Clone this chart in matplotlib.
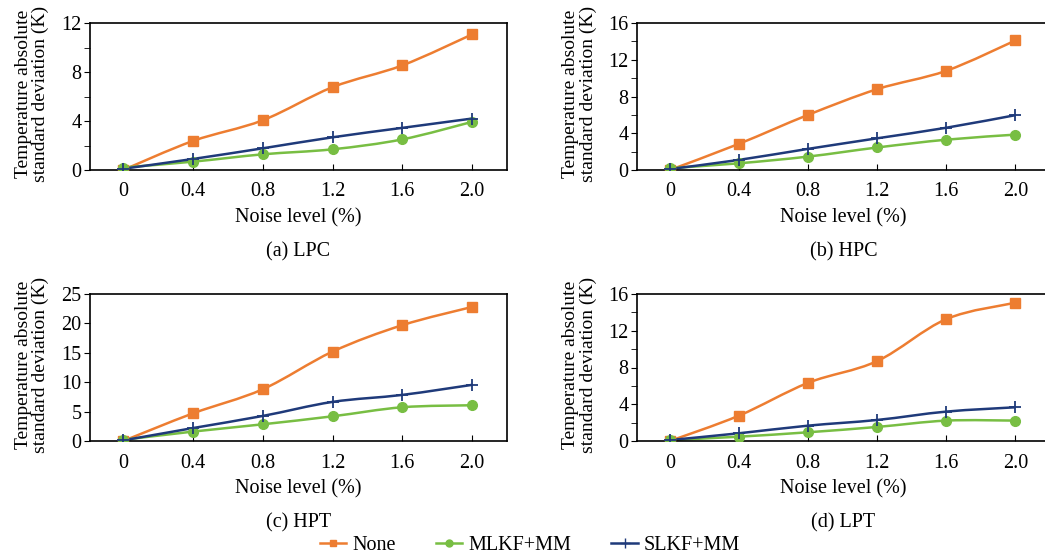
import matplotlib
matplotlib.use("Agg")
import matplotlib.pyplot as plt
import numpy as np
from matplotlib.path import Path
from matplotlib.patches import PathPatch
from matplotlib.lines import Line2D

plt.rcParams['font.family'] = ['Liberation Serif', 'DejaVu Serif']

noise = [0, 0.4, 0.8, 1.2, 1.6, 2.0]
xticklabels = ["0", "0.4", "0.8", "1.2", "1.6", "2.0"]

# (a) LPC
lpc_none = [0.0, 2.37, 4.06, 6.76, 8.54, 11.07]
lpc_mlkf = [0.2, 0.68, 1.28, 1.69, 2.5, 3.93]
lpc_slkf = [0.1, 0.9, 1.77, 2.67, 3.44, 4.2]
# (b) HPC
hpc_none = [0.0, 2.85, 6.0, 8.8, 10.8, 14.1]
hpc_mlkf = [0.2, 0.73, 1.46, 2.45, 3.3, 3.85]
hpc_slkf = [0.1, 1.1, 2.3, 3.45, 4.6, 5.97]
# (c) HPT
hpt_none = [0.0, 4.7, 8.8, 15.2, 19.7, 22.8]
hpt_mlkf = [0.2, 1.6, 2.84, 4.2, 5.74, 6.08]
hpt_slkf = [0.1, 2.2, 4.26, 6.65, 7.84, 9.55]
# (d) LPT
lpt_none = [0.0, 2.76, 6.33, 8.7, 13.27, 15.05]
lpt_mlkf = [0.1, 0.47, 0.95, 1.53, 2.22, 2.22]
lpt_slkf = [0.1, 0.84, 1.67, 2.29, 3.2, 3.67]

captions = ["(a) LPC", "(b) HPC", "(c) HPT", "(d) LPT"]
ymaxs = [12, 16, 25, 16]
ysteps = [4, 4, 5, 4]
yminor = [2, 2, None, 2]

c_none = "#ED7D31"
c_mlkf = "#78BE43"
c_slkf = "#1F3A7A"

FS = 14.5


def smooth_line(ax, x, y, color):
    # Catmull-Rom style bezier through the points (like spreadsheet smoothed lines)
    x = np.asarray(x, float)
    y = np.asarray(y, float)
    verts = [(x[0], y[0])]
    codes = [Path.MOVETO]
    n = len(x)
    for i in range(n - 1):
        p0 = (x[i - 1], y[i - 1]) if i > 0 else (x[i], y[i])
        p1 = (x[i], y[i])
        p2 = (x[i + 1], y[i + 1])
        p3 = (x[i + 2], y[i + 2]) if i + 2 < n else (x[i + 1], y[i + 1])
        t = 1 / 6
        c1 = (p1[0] + (p2[0] - p0[0]) * t, p1[1] + (p2[1] - p0[1]) * t)
        c2 = (p2[0] - (p3[0] - p1[0]) * t, p2[1] - (p3[1] - p1[1]) * t)
        verts += [c1, c2, p2]
        codes += [Path.CURVE4] * 3
    ax.add_patch(PathPatch(Path(verts, codes), facecolor="none",
                           edgecolor=color, lw=1.8, zorder=2))


fig = plt.figure(figsize=(10.45, 5.58), dpi=100)
W, H = 1045, 558
boxes = [(90, 23, 507, 170), (637, 23, 1050, 170),
         (90, 294, 507, 441), (637, 294, 1050, 441)]

series = [(lpc_none, lpc_mlkf, lpc_slkf), (hpc_none, hpc_mlkf, hpc_slkf),
          (hpt_none, hpt_mlkf, hpt_slkf), (lpt_none, lpt_mlkf, lpt_slkf)]

for k, (l, t, r, b) in enumerate(boxes):
    ax = fig.add_axes([l / W, 1 - b / H, (r - l) / W, (b - t) / H])
    none, mlkf, slkf = series[k]
    smooth_line(ax, noise, none, c_none)
    smooth_line(ax, noise, mlkf, c_mlkf)
    smooth_line(ax, noise, slkf, c_slkf)
    ax.plot(noise, none, ls="none", marker="s", ms=7, color=c_none, zorder=3)
    ax.plot(noise, mlkf, ls="none", marker="o", ms=7, color=c_mlkf, zorder=3)
    ax.plot(noise, slkf, ls="none", marker="+", ms=8, mew=1.3, color=c_slkf, zorder=4)

    ax.set_xlim(-0.19, 2.2)
    ax.set_ylim(0, ymaxs[k])
    ax.set_xticks(noise)
    ax.set_xticklabels(xticklabels)
    ax.set_yticks(np.arange(0, ymaxs[k] + 0.1, ysteps[k]))
    if yminor[k]:
        ax.set_yticks(np.arange(yminor[k], ymaxs[k], ysteps[k]), minor=True)
    ax.tick_params(axis="x", direction="in", length=4, labelsize=FS, pad=9)
    ax.tick_params(axis="y", direction="out", length=4, labelsize=FS, pad=2)
    ax.tick_params(axis="y", which="minor", direction="out", length=4)
    for s in ax.spines.values():
        s.set_linewidth(1.2)
    ax.set_xlabel("Noise level (%)", fontsize=FS, labelpad=5)
    ax.set_ylabel("Temperature absolute\nstandard deviation (K)", fontsize=14,
                  labelpad=3, linespacing=1.0)
    ax.yaxis.set_label_coords(-0.098, 0.52)
    ax.text(0.5, -0.56, captions[k], transform=ax.transAxes, ha="center",
            va="center", fontsize=FS)

handles = [Line2D([], [], color=c_none, marker="s", ms=5, lw=1.8),
           Line2D([], [], color=c_mlkf, marker="o", ms=5, lw=1.8),
           Line2D([], [], color=c_slkf, marker="+", ms=7, lw=1.8)]
fig.legend(handles, ["None", "MLKF+MM", "SLKF+MM"], loc="center",
           bbox_to_anchor=(530 / W, 1 - 545 / H), ncol=3, frameon=False,
           fontsize=FS, handlelength=1.3, columnspacing=2.0, handletextpad=0.3)

fig.savefig("out.png", dpi=100)
